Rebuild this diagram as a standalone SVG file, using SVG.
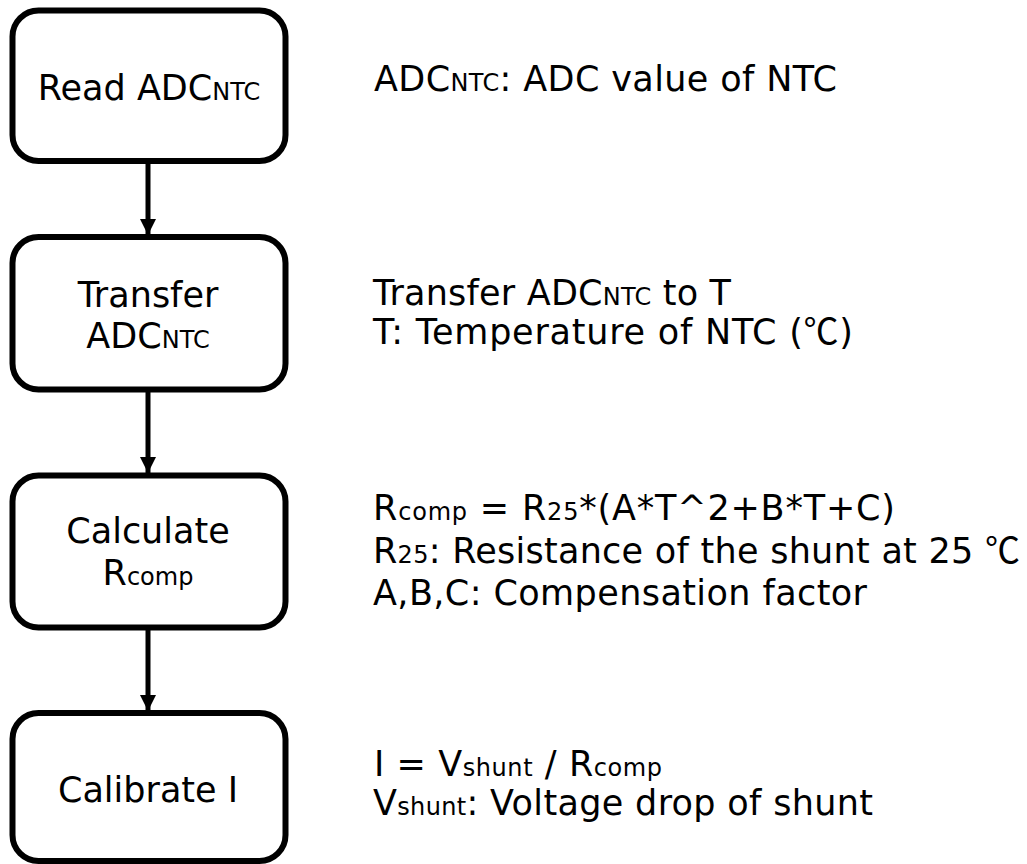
<svg xmlns="http://www.w3.org/2000/svg" width="1027" height="864" viewBox="0 0 1027 864">
  <style>
    .box { fill: #ffffff; stroke: #000000; stroke-width: 6; }
    .edge { stroke: #000000; stroke-width: 5; fill: none; }
    text { font-family: "DejaVu Sans", Verdana, sans-serif; font-size: 35px; fill: #000000; }
    .sub { font-size: 24px; }
    .deg { font-family: "Noto Sans CJK JP", "DejaVu Sans", sans-serif; }
    .c { text-anchor: middle; }
  </style>
  <defs>
    <marker id="arrow" viewBox="0 0 16 16" refX="16" refY="8" markerWidth="16" markerHeight="16" markerUnits="userSpaceOnUse" orient="auto">
      <path d="M0,0 L16,8 L0,16 Z" fill="#000000"/>
    </marker>
  </defs>
  <rect width="1027" height="864" fill="#ffffff"/>

  <!-- flow connectors -->
  <g id="connectors">
    <line class="edge" x1="148" y1="164" x2="148" y2="235" marker-end="url(#arrow)"/>
    <line class="edge" x1="148" y1="392" x2="148" y2="473" marker-end="url(#arrow)"/>
    <line class="edge" x1="148" y1="630" x2="148" y2="711" marker-end="url(#arrow)"/>
  </g>

  <!-- process steps -->
  <g id="step-read">
    <rect class="box" x="12.5" y="10.5" width="273" height="150.5" rx="26"/>
    <text class="c" x="149" y="100">Read ADC<tspan class="sub">NTC</tspan></text>
  </g>
  <g id="step-transfer">
    <rect class="box" x="12.5" y="237" width="273" height="152.5" rx="26"/>
    <text class="c" x="148" y="307">Transfer</text>
    <text class="c" x="148" y="348">ADC<tspan class="sub">NTC</tspan></text>
  </g>
  <g id="step-calculate">
    <rect class="box" x="12.5" y="475.5" width="273" height="152" rx="26"/>
    <text class="c" x="148" y="543">Calculate</text>
    <text class="c" x="148" y="585">R<tspan class="sub">comp</tspan></text>
  </g>
  <g id="step-calibrate">
    <rect class="box" x="12.5" y="713" width="273" height="148" rx="26"/>
    <text class="c" x="148" y="802">Calibrate I</text>
  </g>

  <!-- explanations -->
  <g id="note-read">
    <text x="374" y="91" textLength="463">ADC<tspan class="sub">NTC</tspan>: ADC value of NTC</text>
  </g>
  <g id="note-transfer">
    <text x="373" y="305" textLength="358">Transfer ADC<tspan class="sub">NTC</tspan> to T</text>
    <text x="373" y="344" textLength="480">T: Temperature of NTC (<tspan class="deg">℃</tspan>)</text>
  </g>
  <g id="note-calculate">
    <text x="373" y="520" textLength="522">R<tspan class="sub">comp</tspan> = R<tspan class="sub">25</tspan>*(A*T^2+B*T+C)</text>
    <text x="373" y="563" textLength="647">R<tspan class="sub">25</tspan>: Resistance of the shunt at 25 <tspan class="deg">℃</tspan></text>
    <text x="373" y="605" textLength="494">A,B,C: Compensation factor</text>
  </g>
  <g id="note-calibrate">
    <text x="374" y="776" textLength="288">I = V<tspan class="sub">shunt</tspan> / R<tspan class="sub">comp</tspan></text>
    <text x="373" y="815" textLength="500">V<tspan class="sub">shunt</tspan>: Voltage drop of shunt</text>
  </g>
</svg>
